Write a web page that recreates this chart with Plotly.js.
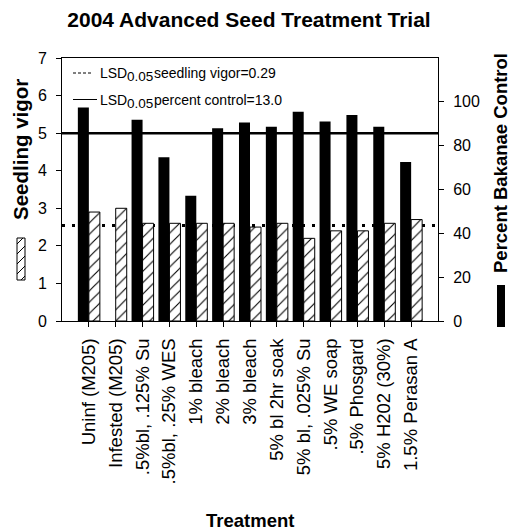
<!DOCTYPE html>
<html><head><meta charset="utf-8">
<script src="https://cdn.plot.ly/plotly-3.0.1.min.js"></script>
<style>html,body{margin:0;padding:0;background:#fff}</style>
</head><body><div id="chart" style="width:511px;height:531px"></div>
<script>
// ---- data ----
const treatments = ['Uninf (M205)','Infested (M205)','.5%bl, .125% Su','.5%bl, .25% WES','1% bleach','2% bleach','3% bleach','5% bl 2hr soak','5% bl, .025% Su','.5% WE soap','.5% Phosgard','5% H202 (30%)','1.5% Perasan A'];
const seedlingVigor = [2.9, 3.0, 2.6, 2.6, 2.6, 2.6, 2.5, 2.6, 2.2, 2.4, 2.4, 2.6, 2.7];
const percentControl = [97.4, 0, 91.8, 74.7, 57.1, 87.9, 90.6, 88.6, 95.5, 91.0, 94.0, 88.6, 72.6];
const vigorTicks = [0, 1, 2, 3, 4, 5, 6, 7];
const controlTicks = [0, 20, 40, 60, 80, 100];
const lsdVigorLevel = 2.54;   // dashed reference line (seedling vigor axis)
const lsdControlLevel = 5.0;  // solid reference line (seedling vigor axis)
const legendParts = [['LSD', '0.05', 'seedling vigor=0.29'],
                     ['LSD', '0.05', 'percent control=13.0']];

// ---- layout geometry ----
const WIDTH = 511, HEIGHT = 531;
const M = {l: 62, r: 73, t: 58, b: 210};
const PW = WIDTH - M.l - M.r, PH = HEIGHT - M.t - M.b;
const px = x => (x - M.l) / PW;
const py = y => (HEIGHT - M.b - y) / PH;
const FONT = 'Liberation Sans, Arial, sans-serif';
const LEG_SIZE = 14, SUB_SIZE = 13.5;

const ctx = document.createElement('canvas').getContext('2d');
function textW(t, size) { ctx.font = size + 'px "Liberation Sans", Arial, sans-serif'; return ctx.measureText(t).width; }

const shapes = [];
// reference lines
shapes.push({type:'line', xref:'paper', x0:0, x1:1, yref:'y', y0:lsdVigorLevel, y1:lsdVigorLevel,
  line:{color:'#000', width:3, dash:'3px,7px'}, layer:'below'});
shapes.push({type:'line', xref:'paper', x0:0, x1:1, yref:'y', y0:lsdControlLevel, y1:lsdControlLevel,
  line:{color:'#000', width:2.5}, layer:'above'});
// legend samples
shapes.push({type:'line', xref:'paper', yref:'paper', x0:px(73), x1:px(93), y0:py(73), y1:py(73),
  line:{color:'#000', width:1, dash:'3px,2px'}});
shapes.push({type:'line', xref:'paper', yref:'paper', x0:px(73), x1:px(97), y0:py(99.5), y1:py(99.5),
  line:{color:'#000', width:1}});
// hatched key (left)
const hk = {x0:17, x1:25, y0:238, y1:280};
shapes.push({type:'rect', xref:'paper', yref:'paper', x0:px(hk.x0), x1:px(hk.x1), y0:py(hk.y0), y1:py(hk.y1),
  line:{color:'#000', width:1}, fillcolor:'#fff'});
for (let k = hk.x0 + hk.y0 + 6; k < hk.x1 + hk.y1; k += 10) {
  const xa = Math.max(hk.x0, k - hk.y1), xb = Math.min(hk.x1, k - hk.y0);
  if (xb > xa) shapes.push({type:'line', xref:'paper', yref:'paper',
    x0:px(xa), y0:py(k - xa), x1:px(xb), y1:py(k - xb), line:{color:'#000', width:1}});
}
// black key (right)
shapes.push({type:'rect', xref:'paper', yref:'paper', x0:px(497), x1:px(505), y0:py(285), y1:py(327),
  line:{width:0}, fillcolor:'#000'});

const annotations = [
  {text:'<b>Seedling vigor</b>', textangle:-90, xref:'paper', yref:'paper', x:px(20), y:py(150),
   xanchor:'center', yanchor:'middle', showarrow:false, font:{family:FONT, size:20.5, color:'#000'}},
  {text:'<b>Percent Bakanae Control</b>', textangle:-90, xref:'paper', yref:'paper', x:px(500), y:py(163),
   xanchor:'center', yanchor:'middle', showarrow:false, font:{family:FONT, size:18.5, color:'#000'}},
  {text:'<b>Treatment</b>', xref:'paper', yref:'paper', x:px(250), y:py(520),
   xanchor:'center', yanchor:'middle', showarrow:false, font:{family:FONT, size:18.5, color:'#000'}}
];
// legend texts: main text + lowered subscript
const legendRowsY = [73, 99.5];
legendParts.forEach((parts, i) => {
  let x = 99;
  const yc = legendRowsY[i];
  const segs = [[parts[0], LEG_SIZE, 0], [parts[1], SUB_SIZE, 4], [parts[2], LEG_SIZE, 0]];
  segs.forEach(([t, s, dy]) => {
    annotations.push({text:t, xref:'paper', yref:'paper', x:px(x), y:py(yc + dy), xanchor:'left', yanchor:'middle',
      showarrow:false, borderpad:0, font:{family:FONT, size:s, color:'#000'}});
    x += textW(t, s);
  });
});

const traces = [
  {type:'bar', x:treatments, y:percentControl, yaxis:'y2', name:'Percent Bakanae Control',
   offset:-0.41, width:0.41, marker:{color:'#000', line:{width:0}}, showlegend:false, hoverinfo:'skip'},
  {type:'bar', x:treatments, y:seedlingVigor, yaxis:'y', name:'Seedling vigor',
   offset:0, width:0.41,
   marker:{color:'#fff', line:{color:'#000', width:1},
     pattern:{shape:'/', fgcolor:'#000', bgcolor:'#fff', size:8, solidity:0.14}},
   showlegend:false, hoverinfo:'skip'}
];

const layout = {
  width:WIDTH, height:HEIGHT, margin:M, paper_bgcolor:'#fff', plot_bgcolor:'#fff',
  font:{family:FONT, color:'#000'},
  title:{text:'<b>2004 Advanced Seed Treatment Trial</b>', xref:'container', x:249/WIDTH, xanchor:'center',
    yref:'container', y:1 - 20/HEIGHT, yanchor:'middle', font:{family:FONT, size:21, color:'#000'}},
  showlegend:false,
  xaxis:{type:'category', range:[-1, treatments.length], tickangle:-90, ticks:'outside', ticklen:5,
    tickcolor:'#000', showline:true, linecolor:'#000', linewidth:1, mirror:true, showgrid:false,
    tickfont:{family:FONT, size:18.5, color:'#000'}, ticklabelstandoff:4, fixedrange:true},
  yaxis:{range:[0, 7], tickvals:vigorTicks, ticks:'outside', ticklen:5, tickcolor:'#000',
    showline:true, linecolor:'#000', linewidth:1, showgrid:false, zeroline:false,
    tickfont:{family:FONT, size:16, color:'#000'}, ticklabelstandoff:6},
  yaxis2:{range:[0, 120], tickvals:controlTicks, overlaying:'y', side:'right', ticks:'outside', ticklen:5,
    tickcolor:'#000', showline:true, linecolor:'#000', linewidth:1, showgrid:false, zeroline:false,
    tickfont:{family:FONT, size:16, color:'#000'}, ticklabelstandoff:6},
  shapes:shapes, annotations:annotations
};

Plotly.newPlot('chart', traces, layout, {staticPlot:true, displayModeBar:false});
</script></body></html>
